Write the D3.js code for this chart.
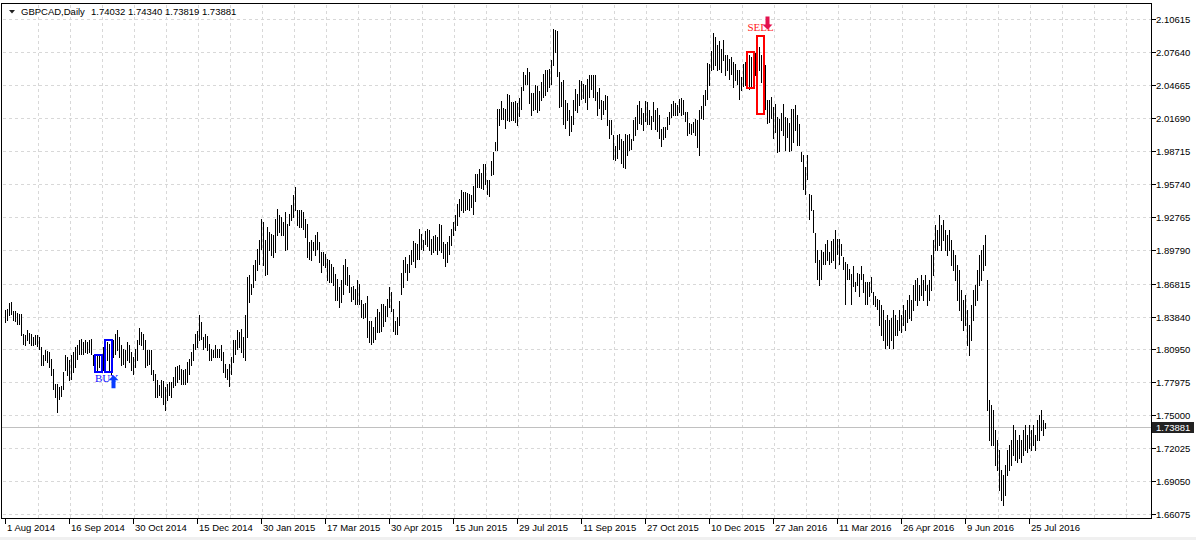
<!DOCTYPE html>
<html><head><meta charset="utf-8">
<script src="https://cdn.jsdelivr.net/npm/d3@7"></script>
<style>
body{margin:0;background:#fff}
svg{display:block}
text{font-family:"Liberation Sans",Arial,sans-serif;font-size:9.5px;fill:#000}
</style>
</head><body>
<svg id="c" width="1196" height="540"></svg>
<script>
// ---------- DATA ----------
const symbolName = "GBPCAD,Daily";
const headerOHLC = ["1.74032", "1.74340", "1.73819", "1.73881"];
const lastPrice = 1.73881;
const lastPriceLabel = "1.73881";

const dateLabels = ["1 Aug 2014","16 Sep 2014","30 Oct 2014","15 Dec 2014","30 Jan 2015","17 Mar 2015",
  "30 Apr 2015","15 Jun 2015","29 Jul 2015","11 Sep 2015","27 Oct 2015","10 Dec 2015","27 Jan 2016",
  "11 Mar 2016","26 Apr 2016","9 Jun 2016","25 Jul 2016"];
const barsPerDateLabel = 32;
const barsPerGridLine = 16;

const priceLabels = ["2.10615","2.07640","2.04665","2.01690","1.98715","1.95740","1.92765","1.89790",
  "1.86815","1.83840","1.80950","1.77975","1.75000","1.72025","1.69050","1.66075"];

// daily highs (bar 0 = 1 Aug 2014)
const highs = [
1.8444,1.8459,1.8510,1.8516,1.8438,1.8438,1.8420,1.8408,1.8408,1.8234,
1.8219,1.8264,1.8240,1.8234,1.8204,1.8219,1.8219,1.8204,1.8114,1.8039,
1.8084,1.8078,1.8069,1.8009,1.7919,1.7784,1.7784,1.7754,1.7760,1.7889,
1.8039,1.8024,1.7994,1.8039,1.8069,1.8114,1.8129,1.8174,1.8189,1.8159,
1.8174,1.8159,1.8174,1.8189,1.8039,1.8024,1.8039,1.8039,1.8039,1.8114,
1.8174,1.8159,1.8144,1.8159,1.8174,1.8234,1.8264,1.8204,1.8129,1.8099,
1.8084,1.8159,1.8129,1.8069,1.8024,1.8099,1.8174,1.8288,1.8249,1.8234,
1.8174,1.8084,1.8084,1.8084,1.7904,1.7874,1.7814,1.7769,1.7814,1.7808,
1.7754,1.7784,1.7799,1.7799,1.7844,1.7934,1.7940,1.7949,1.7919,1.7904,
1.7919,1.7979,1.8009,1.8069,1.8144,1.8228,1.8258,1.8399,1.8339,1.8204,
1.8228,1.8210,1.8144,1.8099,1.8090,1.8129,1.8099,1.8099,1.8129,1.8069,
1.7964,1.7919,1.7964,1.8024,1.8174,1.8174,1.8264,1.8249,1.8279,1.8204,
1.8399,1.8744,1.8759,1.8684,1.8849,1.8894,1.8999,1.9074,1.9269,1.9239,
1.9074,1.9194,1.9149,1.9134,1.9119,1.9269,1.9359,1.9299,1.9284,1.9239,
1.9329,1.9224,1.9314,1.9389,1.9479,1.9554,1.9344,1.9344,1.9350,1.9329,
1.9269,1.9224,1.9059,1.9074,1.9059,1.9119,1.9149,1.9059,1.8969,1.8969,
1.8954,1.8909,1.8894,1.8864,1.8834,1.8774,1.8729,1.8654,1.8714,1.8849,
1.8909,1.8834,1.8759,1.8653,1.8668,1.8638,1.8719,1.8683,1.8539,1.8503,
1.8509,1.8578,1.8353,1.8353,1.8299,1.8383,1.8458,1.8434,1.8503,1.8503,
1.8488,1.8548,1.8653,1.8608,1.8458,1.8353,1.8383,1.8533,1.8782,1.8893,
1.8923,1.8863,1.8938,1.8989,1.9064,1.9049,1.9043,1.9178,1.9133,1.9073,
1.9157,1.9178,1.9163,1.9088,1.9109,1.9118,1.9103,1.9217,1.9208,1.9058,
1.9043,1.9058,1.9109,1.9178,1.9238,1.9298,1.9403,1.9448,1.9523,1.9508,
1.9508,1.9502,1.9493,1.9478,1.9562,1.9667,1.9673,1.9718,1.9679,1.9763,
1.9757,1.9619,1.9613,1.9787,1.9868,1.9955,2.0252,2.0252,2.0324,2.0267,
2.0258,2.0387,2.0378,2.0318,2.0318,2.0327,2.0309,2.0354,2.0453,2.0588,
2.0558,2.0627,2.0588,2.0399,2.0399,2.0474,2.0462,2.0414,2.0498,2.0573,
2.0603,2.0609,2.0612,2.0693,2.0972,2.0963,2.0954,2.0588,2.0498,2.0519,
2.0333,2.0309,2.0243,2.0189,2.0339,2.0432,2.0387,2.0513,2.0504,2.0483,
2.0468,2.0528,2.0558,2.0558,2.0558,2.0558,2.0408,2.0444,2.0333,2.0324,
2.0378,2.0372,2.0159,2.0153,2.0018,1.9919,2.0024,2.0027,1.9988,1.9967,
2.0033,2.0018,2.0033,1.9988,2.0153,2.0183,2.0288,2.0324,2.0267,2.0219,
2.0324,2.0318,2.0243,2.0192,2.0318,2.0243,2.0267,2.0198,2.0078,2.0093,
2.0093,2.0183,2.0228,2.0303,2.0324,2.0312,2.0288,2.0348,2.0357,2.0339,
2.0228,2.0228,2.0129,2.0123,2.0138,2.0168,2.0153,2.0243,2.0279,2.0378,
2.0423,2.0668,2.0662,2.0782,2.0942,2.0903,2.0828,2.0864,2.0792,2.0873,
2.0744,2.0738,2.0702,2.0723,2.0678,2.0662,2.0603,2.0603,2.0543,2.0662,
2.0678,2.0723,2.0744,2.0723,2.0752,2.0762,2.0648,2.0813,2.0744,2.0798,
2.0648,2.0333,2.0333,2.0363,2.0273,2.0303,2.0183,2.0168,2.0218,2.0303,
2.0183,2.0173,2.0131,2.0258,2.0252,2.0288,2.0203,2.0123,1.9868,1.9843,
1.9733,1.9838,1.9493,1.9478,1.9343,1.9142,1.8983,1.8893,1.8983,1.8973,
1.9043,1.9073,1.8968,1.9064,1.9082,1.9163,1.9082,1.9088,1.9043,1.8923,
1.8878,1.8863,1.8818,1.8773,1.8842,1.8698,1.8782,1.8773,1.8842,1.8773,
1.8698,1.8698,1.8698,1.8743,1.8608,1.8578,1.8548,1.8535,1.8490,1.8445,
1.8355,1.8400,1.8355,1.8373,1.8445,1.8400,1.8355,1.8445,1.8400,1.8490,
1.8445,1.8535,1.8580,1.8535,1.8670,1.8714,1.8732,1.8670,1.8759,1.8714,
1.8759,1.8670,1.8714,1.8939,1.9074,1.9209,1.9164,1.9299,1.9209,1.9254,
1.9164,1.9119,1.9164,1.9074,1.8984,1.8939,1.8849,1.8804,1.8624,1.8535,
1.8580,1.8445,1.8310,1.8490,1.8624,1.8670,1.8804,1.8939,1.8984,1.9029,
1.9119,1.8714,1.7635,1.7590,1.7545,1.7365,1.7275,1.7186,1.7006,1.6961,
1.7051,1.7186,1.7230,1.7275,1.7410,1.7365,1.7275,1.7320,1.7275,1.7365,
1.7410,1.7320,1.7410,1.7365,1.7410,1.7320,1.7455,1.7500,1.7545,1.7455,1.74340];

// daily lows
const lows = [
1.8339,1.8354,1.8399,1.8414,1.8360,1.8348,1.8324,1.8324,1.8219,1.8144,
1.8129,1.8180,1.8150,1.8129,1.8129,1.8144,1.8120,1.8099,1.7949,1.7949,
1.7994,1.7979,1.7934,1.7859,1.7739,1.7664,1.7529,1.7649,1.7670,1.7739,
1.7904,1.7859,1.7814,1.7829,1.7889,1.7934,1.8009,1.8054,1.8054,1.8054,
1.8069,1.8060,1.8069,1.8054,1.7949,1.7889,1.7889,1.7934,1.7889,1.7904,
1.7889,1.7994,1.7889,1.7874,1.8024,1.8054,1.8084,1.8024,1.7949,1.7964,
1.7934,1.7994,1.7979,1.7904,1.7874,1.7934,1.7994,1.8144,1.8129,1.8099,
1.7934,1.7949,1.7964,1.7874,1.7814,1.7664,1.7664,1.7679,1.7664,1.7604,
1.7544,1.7634,1.7679,1.7664,1.7754,1.7769,1.7799,1.7829,1.7784,1.7784,
1.7784,1.7799,1.7874,1.7949,1.7994,1.8099,1.8114,1.8174,1.8189,1.8099,
1.8114,1.8084,1.7994,1.7994,1.8024,1.8024,1.8024,1.8024,1.7994,1.7889,
1.7844,1.7829,1.7760,1.7874,1.7979,1.8054,1.8099,1.8114,1.8069,1.8024,
1.7994,1.8204,1.8519,1.8594,1.8654,1.8714,1.8804,1.8864,1.8999,1.8849,
1.8759,1.8774,1.8984,1.8939,1.8924,1.8969,1.9119,1.9149,1.9119,1.9119,
1.8984,1.8999,1.9209,1.9254,1.9284,1.9344,1.9209,1.9194,1.9194,1.9179,
1.9104,1.8924,1.8909,1.8894,1.8984,1.8939,1.8999,1.8879,1.8789,1.8849,
1.8834,1.8714,1.8699,1.8699,1.8669,1.8534,1.8534,1.8474,1.8519,1.8594,
1.8684,1.8669,1.8609,1.8533,1.8548,1.8503,1.8503,1.8503,1.8383,1.8374,
1.8383,1.8209,1.8158,1.8143,1.8158,1.8188,1.8248,1.8248,1.8263,1.8308,
1.8353,1.8398,1.8479,1.8443,1.8263,1.8233,1.8233,1.8314,1.8593,1.8653,
1.8788,1.8719,1.8788,1.8863,1.8887,1.8833,1.8908,1.8908,1.8998,1.8989,
1.9037,1.9019,1.8983,1.8953,1.8968,1.8983,1.8953,1.8983,1.8968,1.8917,
1.8839,1.8878,1.8953,1.9028,1.9118,1.9169,1.9208,1.9289,1.9349,1.9328,
1.9349,1.9352,1.9343,1.9373,1.9307,1.9427,1.9553,1.9553,1.9547,1.9538,
1.9583,1.9493,1.9472,1.9658,1.9673,1.9883,1.9889,2.0114,2.0168,2.0168,
2.0084,2.0159,2.0147,2.0153,2.0159,2.0138,2.0114,2.0189,2.0258,2.0423,
2.0483,2.0477,2.0309,2.0198,2.0243,2.0258,2.0228,2.0249,2.0333,2.0363,
2.0378,2.0414,2.0453,2.0483,2.0648,2.0768,2.0549,2.0273,2.0279,2.0117,
2.0087,2.0153,2.0018,2.0057,2.0117,2.0249,2.0228,2.0288,2.0348,2.0357,
2.0318,2.0252,2.0363,2.0438,2.0363,2.0333,2.0198,2.0267,2.0162,2.0213,
2.0258,2.0114,1.9994,2.0033,1.9808,1.9793,1.9817,1.9898,1.9769,1.9733,
1.9724,1.9838,1.9883,1.9898,1.9973,2.0018,2.0078,2.0129,2.0117,2.0069,
2.0147,2.0117,2.0123,2.0078,2.0147,2.0078,2.0057,1.9994,1.9919,1.9985,
2.0003,2.0078,2.0123,2.0183,2.0198,2.0198,2.0198,2.0228,2.0204,2.0213,
2.0147,2.0018,2.0039,2.0033,2.0048,2.0018,1.9913,1.9844,2.0174,2.0168,
2.0288,2.0348,2.0468,2.0603,2.0618,2.0648,2.0603,2.0618,2.0588,2.0693,
2.0558,2.0603,2.0528,2.0573,2.0453,2.0513,2.0483,2.0348,2.0423,2.0462,
2.0468,2.0513,2.0438,2.0443,2.0603,2.0558,2.0513,2.0603,2.0498,2.0648,
2.0258,2.0132,2.0138,2.0174,1.9994,2.0048,1.9868,1.9874,2.0063,2.0018,
1.9883,2.0003,1.9874,1.9883,1.9958,2.0063,1.9928,1.9928,1.9787,1.9532,
1.9493,1.9628,1.9262,1.9343,1.9148,1.8878,1.8728,1.8674,1.8728,1.8863,
1.8863,1.8893,1.8863,1.8878,1.8893,1.8823,1.8953,1.8863,1.8938,1.8818,
1.8503,1.8728,1.8728,1.8503,1.8668,1.8623,1.8674,1.8578,1.8728,1.8608,
1.8503,1.8503,1.8578,1.8608,1.8503,1.8488,1.8458,1.8310,1.8220,1.8175,
1.8103,1.8130,1.8103,1.8175,1.8103,1.8220,1.8220,1.8265,1.8247,1.8310,
1.8265,1.8337,1.8373,1.8355,1.8445,1.8535,1.8490,1.8535,1.8580,1.8535,
1.8624,1.8490,1.8535,1.8624,1.8759,1.8984,1.8984,1.9029,1.8984,1.9074,
1.8984,1.8939,1.8984,1.8849,1.8804,1.8714,1.8535,1.8445,1.8355,1.8265,
1.8310,1.8130,1.8040,1.8175,1.8355,1.8490,1.8535,1.8670,1.8714,1.8804,
1.8849,1.7545,1.7275,1.7230,1.7230,1.7051,1.7006,1.6826,1.6736,1.6691,
1.6781,1.6961,1.7006,1.7051,1.7141,1.7096,1.7078,1.7114,1.7078,1.7141,
1.7186,1.7168,1.7204,1.7186,1.7230,1.7186,1.7275,1.7275,1.7365,1.7320,1.73819];

// trade signals: boxes = [firstBar, lastBar, upperPrice, lowerPrice]
const buyBoxes = [[45, 48, 1.8040, 1.7887], [50, 53, 1.8175, 1.7893]];
const buyLabel = {text: "BUY", bar: 45, price: 1.7887, arrowBar: 54};
const sellBoxes = [[371, 374, 2.0765, 2.0441], [376, 379, 2.0909, 2.0207]];
const sellLabel = {text: "SELL", bar: 371, price: 2.0909, arrowBar: 381};

// ---------- CHART ----------
const svg = d3.select("#c");
const plotL = 1.5, plotT = 3.5, plotR = 1151.5, plotB = 518.5;
const nBars = highs.length;

const x = d3.scaleLinear().domain([0, nBars - 1]).range([5, 5 + 2 * (nBars - 1)]);
const y = d3.scaleLinear().domain([1.66075, 2.10615]).range([514.5, 19.5]);
const col = i => Math.round(x(i)) + 0.5;
const row = p => Math.round(y(p) - 0.5) + 0.5;

// bottom light strip
svg.append("rect").attr("x", 0).attr("y", 537).attr("width", 1196).attr("height", 3).attr("fill", "#f0f0f0");

const grid = svg.append("g").attr("stroke", "#d8d8d8").attr("stroke-dasharray", "3,3")
  .attr("shape-rendering", "crispEdges");
// vertical grid
d3.range(barsPerGridLine, 600, barsPerGridLine).forEach(b => {
  const gx = Math.round(x(b)) + 1.5;
  if (gx < plotR - 2) grid.append("line").attr("x1", gx).attr("x2", gx).attr("y1", plotT + 1).attr("y2", plotB);
});
// horizontal grid
priceLabels.forEach(s => {
  const gy = row(+s);
  grid.append("line").attr("x1", plotL + 1).attr("x2", plotR).attr("y1", gy).attr("y2", gy);
});

// current price line
svg.append("line").attr("x1", plotL).attr("x2", plotR).attr("y1", row(lastPrice)).attr("y2", row(lastPrice))
  .attr("stroke", "#c0c0c0").attr("shape-rendering", "crispEdges");

// bars
svg.append("g").attr("stroke", "#000").attr("shape-rendering", "crispEdges")
  .selectAll("line").data(d3.range(nBars)).join("line")
  .attr("x1", i => col(i)).attr("x2", i => col(i))
  .attr("y1", i => Math.round(y(highs[i])))
  .attr("y2", i => Math.round(y(lows[i])) + 1);

// signal boxes
function boxes(list, color) {
  svg.append("g").selectAll("rect").data(list).join("rect")
    .attr("x", d => Math.round(x(d[0])))
    .attr("y", d => Math.round(y(d[2])))
    .attr("width", d => Math.round(x(d[1])) + 1 - Math.round(x(d[0])))
    .attr("height", d => Math.round(y(d[3])) - Math.round(y(d[2])))
    .attr("fill", "none").attr("stroke", color).attr("stroke-width", 2);
}
boxes(buyBoxes, "#0000ff");
boxes(sellBoxes, "#ff0000");

// BUY label + up arrow
svg.append("text").attr("x", x(buyLabel.bar)).attr("y", y(buyLabel.price) + 10)
  .style("font-family", "'Liberation Serif','Times New Roman',serif").style("font-size", "11px")
  .attr("fill", "#0000ff").style("fill", "#1010ff").text(buyLabel.text);
{
  const cx = x(buyLabel.arrowBar) + 0.5, ty = y(buyLabel.price) + 3;
  svg.append("path").attr("fill", "#0a3cff")
    .attr("d", `M${cx},${ty} L${cx + 5},${ty + 5} L${cx + 2},${ty + 5} L${cx + 2},${ty + 13} L${cx - 2},${ty + 13} L${cx - 2},${ty + 5} L${cx - 5},${ty + 5} Z`);
}
// SELL label + down arrow
svg.append("text").attr("x", x(sellLabel.bar) + 0.5).attr("y", y(sellLabel.price) - 5)
  .style("font-family", "'Liberation Serif','Times New Roman',serif").style("font-size", "11px")
  .style("fill", "#ff1a1a").text(sellLabel.text);
{
  const cx = x(sellLabel.arrowBar) + 0.5, by = y(sellLabel.price) - 7;
  svg.append("path").attr("fill", "#e3124e")
    .attr("d", `M${cx},${by} L${cx + 5},${by - 5} L${cx + 2},${by - 5} L${cx + 2},${by - 13} L${cx - 2},${by - 13} L${cx - 2},${by - 5} L${cx - 5},${by - 5} Z`);
}

// frame
svg.append("path").attr("fill", "none").attr("stroke", "#000").attr("shape-rendering", "crispEdges")
  .attr("d", `M${plotL},${plotT} H${plotR} V${plotB} H${plotL} Z`);

// right axis
const ra = svg.append("g");
priceLabels.forEach(s => {
  const ty = row(+s);
  ra.append("line").attr("x1", plotR).attr("x2", plotR + 4).attr("y1", ty).attr("y2", ty)
    .attr("stroke", "#000").attr("shape-rendering", "crispEdges");
  ra.append("text").attr("x", 1156).attr("y", ty + 3.5).text(s);
});
// current price box
{
  const cy = row(lastPrice);
  ra.append("rect").attr("x", 1152).attr("y", cy - 5.5).attr("width", 42).attr("height", 11).attr("fill", "#222");
  ra.append("text").attr("x", 1156).attr("y", cy + 3.5).style("fill", "#fff").text(lastPriceLabel);
}

// bottom axis
const ba = svg.append("g");
dateLabels.forEach((s, k) => {
  const tx = Math.round(x(k * barsPerDateLabel)) + 0.5;
  ba.append("line").attr("x1", tx).attr("x2", tx).attr("y1", plotB).attr("y2", plotB + 5)
    .attr("stroke", "#000").attr("shape-rendering", "crispEdges");
  ba.append("text").attr("x", tx + 1.5).attr("y", 531).text(s);
});

// header
svg.append("path").attr("d", "M9,10 L15,10 L12,13.5 Z").attr("fill", "#222");
svg.append("text").attr("x", 21).attr("y", 15).text(symbolName);
svg.append("text").attr("x", 91).attr("y", 15).text(headerOHLC.join(" "));
</script>
</body></html>
